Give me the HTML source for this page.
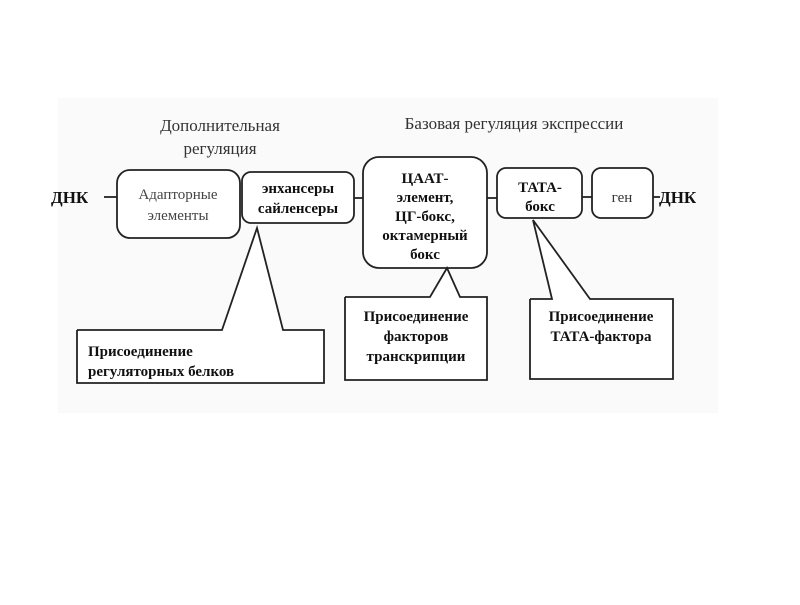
<!DOCTYPE html>
<html><head><meta charset="utf-8"><style>
body{margin:0;background:#fff}
svg text{font-family:"Liberation Serif",serif;fill:#111}
.b{font-weight:bold;font-size:15px}
.n{font-size:17px;fill:#333}
</style></head><body>
<svg width="800" height="600" viewBox="0 0 800 600" xmlns="http://www.w3.org/2000/svg">
<rect x="0" y="0" width="800" height="600" fill="#fff"/>
<rect x="58" y="98" width="660" height="315" fill="#fafafa"/>
<g stroke="#222" stroke-width="1.8" fill="#fff">
<line x1="104" y1="197" x2="118" y2="197"/>
<line x1="354" y1="198" x2="364" y2="198"/>
<line x1="487" y1="198" x2="497" y2="198"/>
<line x1="582" y1="197" x2="592" y2="197"/>
<line x1="653" y1="197" x2="660" y2="197"/>
<rect x="117" y="170" width="123" height="68" rx="13"/>
<rect x="242" y="172" width="112" height="51" rx="9"/>
<rect x="363" y="157" width="124" height="111" rx="16"/>
<rect x="497" y="168" width="85" height="50" rx="9"/>
<rect x="592" y="168" width="61" height="50" rx="9"/>
<polyline points="77,330 222,330 257,228 283,330 324,330 324,383 77,383 77,330" fill="#fff"/>
<polyline points="345,297 430,297 447,268 460,297 487,297 487,380 345,380 345,297" fill="#fff"/>
<polyline points="530,299 552,299 533,220 590,299 673,299 673,379 530,379 530,299" fill="#fff"/>
</g>
<text class="n" x="220" y="131" text-anchor="middle">Дополнительная</text>
<text class="n" x="220" y="154" text-anchor="middle">регуляция</text>
<text class="n" x="514" y="129" text-anchor="middle">Базовая регуляция экспрессии</text>
<text class="b" x="51" y="203" style="font-size:17px">ДНК</text>
<text class="b" x="659" y="203" style="font-size:17px">ДНК</text>
<text x="178" y="199" text-anchor="middle" style="font-size:15px;fill:#444">Адапторные</text>
<text x="178" y="220" text-anchor="middle" style="font-size:15px;fill:#444">элементы</text>
<text class="b" x="298" y="193" text-anchor="middle">энхансеры</text>
<text class="b" x="298" y="213" text-anchor="middle">сайленсеры</text>
<text class="b" x="425" y="183" text-anchor="middle">ЦААТ-</text>
<text class="b" x="425" y="202" text-anchor="middle">элемент,</text>
<text class="b" x="425" y="221" text-anchor="middle">ЦГ-бокс,</text>
<text class="b" x="425" y="240" text-anchor="middle">октамерный</text>
<text class="b" x="425" y="259" text-anchor="middle">бокс</text>
<text class="b" x="540" y="192" text-anchor="middle">ТАТА-</text>
<text class="b" x="540" y="211" text-anchor="middle">бокс</text>
<text x="622" y="202" text-anchor="middle" style="font-size:15px;fill:#333">ген</text>
<text class="b" x="88" y="356">Присоединение</text>
<text class="b" x="88" y="376">регуляторных белков</text>
<text class="b" x="416" y="321" text-anchor="middle">Присоединение</text>
<text class="b" x="416" y="341" text-anchor="middle">факторов</text>
<text class="b" x="416" y="361" text-anchor="middle">транскрипции</text>
<text class="b" x="601" y="321" text-anchor="middle">Присоединение</text>
<text class="b" x="601" y="341" text-anchor="middle">ТАТА-фактора</text>
</svg>
</body></html>
